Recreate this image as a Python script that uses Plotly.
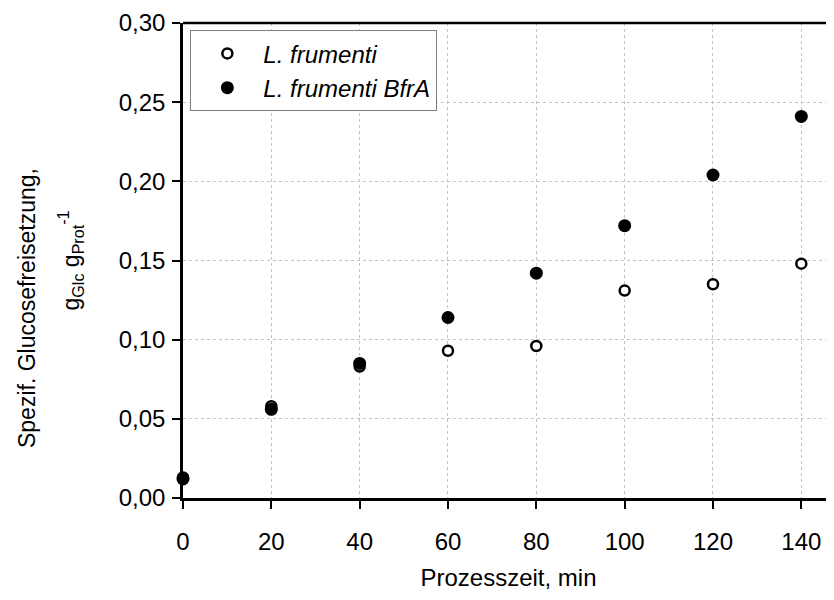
import plotly.graph_objects as go

# Data
time_min = [0, 20, 40, 60, 80, 100, 120, 140]
lf_values = [0.013, 0.058, 0.083, 0.093, 0.096, 0.131, 0.135, 0.148]        # L. frumenti (open)
lf_bfra_values = [0.012, 0.056, 0.085, 0.114, 0.142, 0.172, 0.204, 0.241]  # L. frumenti BfrA (filled)

x_ticks = [0, 20, 40, 60, 80, 100, 120, 140]
y_ticks = [0.00, 0.05, 0.10, 0.15, 0.20, 0.25, 0.30]

y_title_line1 = "Spezif. Glucosefreisetzung,"
y_title_line2 = "g<sub>Glc</sub> g<sub>Prot</sub><sup>-1</sup>"
x_title = "Prozesszeit, min"

FONT = "Liberation Sans, Arial, sans-serif"

fig = go.Figure()
fig.add_trace(go.Scatter(
    x=time_min, y=lf_values, mode="markers", name="L. frumenti",
    marker=dict(symbol="circle", size=10, color="white", line=dict(color="black", width=2.5)),
    cliponaxis=False,
))
fig.add_trace(go.Scatter(
    x=time_min, y=lf_bfra_values, mode="markers", name="L. frumenti BfrA",
    marker=dict(symbol="circle", size=13, color="black", line=dict(color="black", width=0)),
    cliponaxis=False,
))

# the page body adds an 8px offset, so the figure is 8px smaller than the window
fig.update_layout(
    width=826, height=592,
    margin=dict(l=175, r=0, t=15, b=101.5),
    plot_bgcolor="white", paper_bgcolor="white",
    separators=",.",
    font=dict(family=FONT, size=24, color="black"),
    showlegend=True,
    legend=dict(
        x=0.011, y=0.985, xanchor="left", yanchor="top",
        bgcolor="white", bordercolor="#7f7f7f", borderwidth=1.2,
        font=dict(family=FONT, size=24, style="italic", color="black"),
        itemwidth=62,
    ),
    xaxis=dict(
        range=[0, 147.4], tickvals=x_ticks, ticktext=[str(v) for v in x_ticks],
        showline=True, linecolor="black", linewidth=2.5,
        ticks="outside", ticklen=8, tickwidth=1.5, tickcolor="black",
        showgrid=True, gridcolor="#c4c4c4", gridwidth=1, griddash="dot",
        zeroline=False, automargin=False, ticklabelstandoff=12,
        title=dict(text=x_title, font=dict(size=24), standoff=16),
        tickfont=dict(size=24),
    ),
    yaxis=dict(
        range=[0, 0.30], tickvals=y_ticks, tickformat=".2f",
        showline=True, linecolor="black", linewidth=2.5,
        ticks="outside", ticklen=8, tickwidth=1.5, tickcolor="black",
        showgrid=True, gridcolor="#c4c4c4", gridwidth=1, griddash="dot",
        zeroline=False, automargin=False, ticklabelstandoff=2,
        tickfont=dict(size=24),
    ),
)

# y-axis title as two rotated lines
fig.add_annotation(text=y_title_line1, xref="paper", yref="paper", x=-0.2396, y=0.40,
                   xanchor="center", yanchor="middle", textangle=-90, showarrow=False,
                   font=dict(family=FONT, size=23, color="black"))
fig.add_annotation(text=y_title_line2, xref="paper", yref="paper", x=-0.1736, y=0.50,
                   xanchor="center", yanchor="middle", textangle=-90, showarrow=False,
                   font=dict(family=FONT, size=23, color="black"))

# top frame line (right edge of the frame lies outside the picture)
fig.add_shape(type="line", xref="paper", yref="paper", x0=0, x1=1, y0=1, y1=1,
              line=dict(color="black", width=2.5))

fig.write_html("out.html")
